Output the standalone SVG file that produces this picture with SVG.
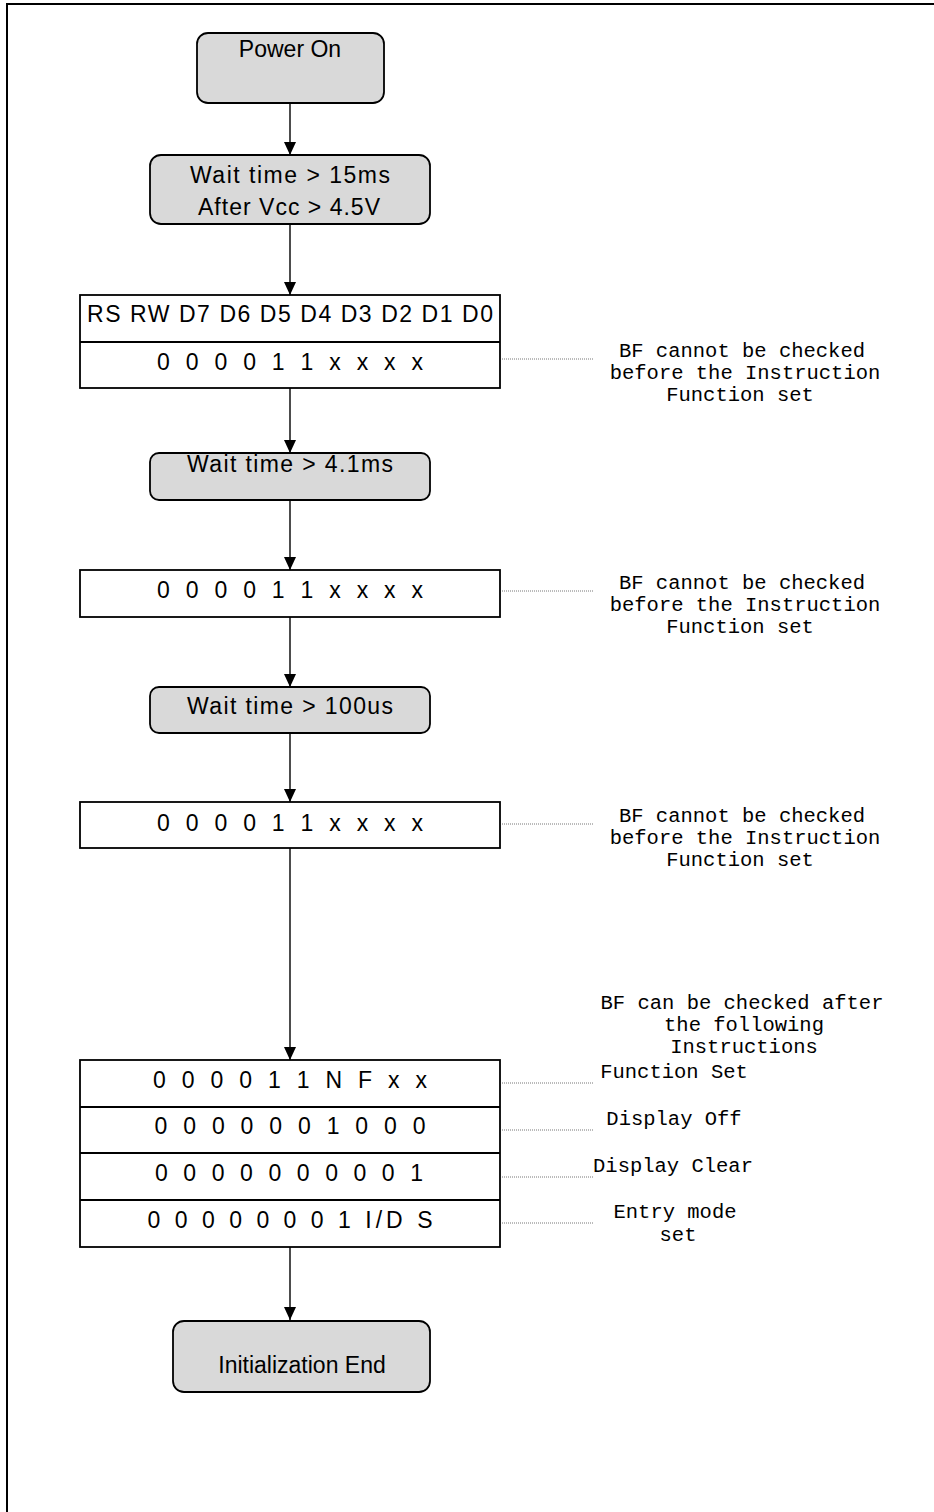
<svg xmlns="http://www.w3.org/2000/svg" width="934" height="1512" viewBox="0 0 934 1512">
<style>
.frame{fill:none;stroke:#000;stroke-width:2}
.rbox{fill:#d9d9d9;stroke:#000;stroke-width:1.8}
.box{fill:#fff;stroke:#000;stroke-width:1.8}
.t{font-family:"Liberation Sans",Arial,sans-serif;font-size:23px;fill:#000;text-anchor:middle}
.m{font-family:"Liberation Mono","Courier New",monospace;font-size:20.5px;fill:#000;text-anchor:middle}
.conn{stroke:#000;stroke-width:1.4;fill:none}
.dot{stroke:#777;stroke-width:1;stroke-dasharray:1 1;fill:none}
</style>
<defs>
<marker id="ah" markerWidth="13" markerHeight="12" refX="13" refY="6" orient="auto" markerUnits="userSpaceOnUse">
<path d="M0,0 L13,6 L0,12 Z" fill="#000"/>
</marker>
</defs>
<rect width="934" height="1512" fill="#fff"/>
<path class="frame" d="M7,1512 V4 H934"/>
<g id="power-on">
<rect class="rbox" x="197" y="33" width="187" height="70" rx="11"/>
<text class="t" x="290" y="57">Power On</text>
</g>
<g id="wait-15ms">
<rect class="rbox" x="150" y="155" width="280" height="69" rx="11"/>
<text class="t" x="290" y="183" textLength="200" lengthAdjust="spacing">Wait time &gt; 15ms</text>
<text class="t" x="289" y="215" textLength="182" lengthAdjust="spacing">After Vcc &gt; 4.5V</text>
</g>
<g id="instr-1">
<rect class="box" x="80" y="295" width="420" height="93"/>
<line class="box" x1="80" y1="342" x2="500" y2="342"/>
<text class="t" x="290" y="322" textLength="406" lengthAdjust="spacing">RS RW D7 D6 D5 D4 D3 D2 D1 D0</text>
<text class="t" x="290" y="370" textLength="266" lengthAdjust="spacing">0 0 0 0 1 1 x x x x</text>
</g>
<g id="note-1">
<text class="m" x="742" y="357">BF cannot be checked</text>
<text class="m" x="745" y="379">before the Instruction</text>
<text class="m" x="740" y="401">Function set</text>
</g>
<g id="wait-4-1ms">
<rect class="rbox" x="150" y="453" width="280" height="47" rx="9"/>
<text class="t" x="290" y="472" textLength="206" lengthAdjust="spacing">Wait time &gt; 4.1ms</text>
</g>
<g id="instr-2">
<rect class="box" x="80" y="570" width="420" height="47"/>
<text class="t" x="290" y="598" textLength="266" lengthAdjust="spacing">0 0 0 0 1 1 x x x x</text>
</g>
<g id="note-2">
<text class="m" x="742" y="589">BF cannot be checked</text>
<text class="m" x="745" y="611">before the Instruction</text>
<text class="m" x="740" y="633">Function set</text>
</g>
<g id="wait-100us">
<rect class="rbox" x="150" y="687" width="280" height="46" rx="9"/>
<text class="t" x="290" y="714" textLength="206" lengthAdjust="spacing">Wait time &gt; 100us</text>
</g>
<g id="instr-3">
<rect class="box" x="80" y="802" width="420" height="46"/>
<text class="t" x="290" y="831" textLength="266" lengthAdjust="spacing">0 0 0 0 1 1 x x x x</text>
</g>
<g id="note-3">
<text class="m" x="742" y="822">BF cannot be checked</text>
<text class="m" x="745" y="844">before the Instruction</text>
<text class="m" x="740" y="866">Function set</text>
</g>
<g id="note-4">
<text class="m" x="742" y="1009">BF can be checked after</text>
<text class="m" x="744" y="1031">the following</text>
<text class="m" x="744" y="1053">Instructions</text>
</g>
<g id="instr-group">
<rect class="box" x="80" y="1060" width="420" height="187"/>
<line class="box" x1="80" y1="1107" x2="500" y2="1107"/>
<line class="box" x1="80" y1="1153" x2="500" y2="1153"/>
<line class="box" x1="80" y1="1200" x2="500" y2="1200"/>
<text class="t" x="290" y="1088" textLength="274" lengthAdjust="spacing">0 0 0 0 1 1 N F x x</text>
<text class="t" x="290" y="1134" textLength="271" lengthAdjust="spacing">0 0 0 0 0 0 1 0 0 0</text>
<text class="t" x="289" y="1181" textLength="268" lengthAdjust="spacing">0 0 0 0 0 0 0 0 0 1</text>
<text class="t" x="290" y="1228" textLength="285" lengthAdjust="spacing">0 0 0 0 0 0 0 1 I/D S</text>
</g>
<g id="labels">
<text class="m" x="674" y="1078">Function Set</text>
<text class="m" x="674" y="1125">Display Off</text>
<text class="m" x="673" y="1172">Display Clear</text>
<text class="m" x="675" y="1218">Entry mode</text>
<text class="m" x="678" y="1241">set</text>
</g>
<g id="init-end">
<rect class="rbox" x="173" y="1321" width="257" height="71" rx="11"/>
<text class="t" x="302" y="1373">Initialization End</text>
</g>
<g id="connectors">
<line class="conn" x1="290" y1="103" x2="290" y2="155" marker-end="url(#ah)"/>
<line class="conn" x1="290" y1="224" x2="290" y2="295" marker-end="url(#ah)"/>
<line class="conn" x1="290" y1="388" x2="290" y2="453" marker-end="url(#ah)"/>
<line class="conn" x1="290" y1="500" x2="290" y2="570" marker-end="url(#ah)"/>
<line class="conn" x1="290" y1="617" x2="290" y2="687" marker-end="url(#ah)"/>
<line class="conn" x1="290" y1="733" x2="290" y2="802" marker-end="url(#ah)"/>
<line class="conn" x1="290" y1="848" x2="290" y2="1060" marker-end="url(#ah)"/>
<line class="conn" x1="290" y1="1247" x2="290" y2="1320" marker-end="url(#ah)"/>
<line class="dot" x1="502" y1="359" x2="593" y2="359"/>
<line class="dot" x1="502" y1="591" x2="593" y2="591"/>
<line class="dot" x1="502" y1="824" x2="593" y2="824"/>
<line class="dot" x1="502" y1="1083" x2="593" y2="1083"/>
<line class="dot" x1="502" y1="1130" x2="593" y2="1130"/>
<line class="dot" x1="502" y1="1177" x2="593" y2="1177"/>
<line class="dot" x1="502" y1="1223" x2="593" y2="1223"/>
</g>
</svg>
